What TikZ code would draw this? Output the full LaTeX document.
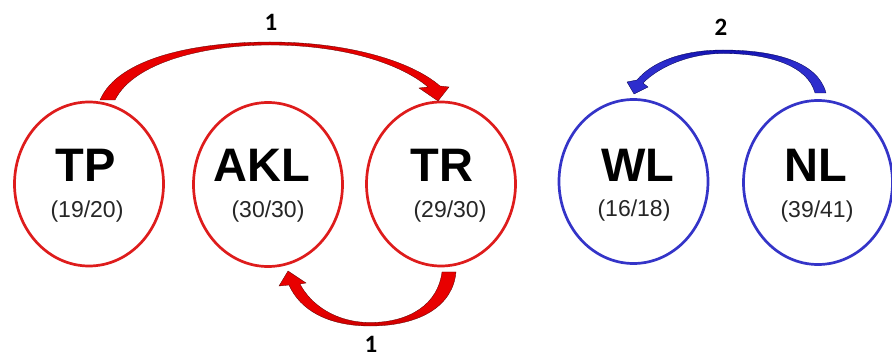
\documentclass[tikz,border=0pt]{standalone}
\usepackage{fontspec}
\setmainfont{Liberation Sans}
\newfontfamily\lblfont{Carlito}
\usetikzlibrary{shapes.geometric}
\definecolor{cred}{RGB}{222,28,28}
\definecolor{cblue}{RGB}{52,52,200}
\definecolor{ared}{RGB}{232,0,0}
\definecolor{ablue}{RGB}{45,45,205}
\definecolor{dred}{RGB}{70,10,10}
\definecolor{dblue}{RGB}{20,20,90}
\pgfdeclareverticalshading{redtopfade}{100bp}{color(0bp)=(ared); color(65bp)=(ared); color(88bp)=(red!70!black); color(100bp)=(dred)}
\pgfdeclareverticalshading{redbotfade}{100bp}{color(0bp)=(dred); color(12bp)=(red!70!black); color(40bp)=(ared); color(100bp)=(ared)}
\pgfdeclareverticalshading{bluetopfade}{100bp}{color(0bp)=(ablue); color(60bp)=(ablue); color(85bp)=(blue!60!black); color(100bp)=(dblue)}
\tikzset{
  oval/.style={ellipse, draw, line width=2.7pt, minimum width=149pt, minimum height=164pt, inner sep=0pt},
  redoval/.style={oval, draw=cred},
  blueoval/.style={oval, draw=cblue},
  bigtxt/.style={anchor=base, font=\fontsize{47}{50}\selectfont\bfseries, inner sep=0pt},
  subtxt/.style={anchor=base, font=\fontsize{23}{26}\selectfont, text=black!85, inner sep=0pt},
  numtxt/.style={font=\lblfont\fontsize{25}{27}\selectfont\bfseries, inner sep=0pt},
  redarrow/.style={shading=redtopfade, draw=red!35!black, line width=0.3pt},
  redarrowb/.style={shading=redbotfade, draw=red!35!black, line width=0.3pt},
  bluearrow/.style={shading=bluetopfade, draw=blue!30!black, line width=0.3pt},
}
\begin{document}
\begin{tikzpicture}[x=1pt,y=-1pt]
\useasboundingbox (0,0) rectangle (892,358);
\fill[white] (0,0) rectangle (892,358);

% ovals
\node[redoval] (tp) at (89,184) {};
\node[redoval] (akl) at (268,184.5) {};
\node[redoval] (tr) at (441,184) {};
\node[blueoval] (wl) at (633.5,181.5) {};
\node[blueoval] (nl) at (818,182.5) {};

% texts
\node[bigtxt] (tpT) at (86,182) {TP};
\node[subtxt] (tpS) at (87,218) {(19/20)};
\node[bigtxt] (aklT) at (262,182) {AKL};
\node[subtxt] (aklS) at (268,218) {(30/30)};
\node[bigtxt] (trT) at (442,182) {TR};
\node[subtxt] (trS) at (450,218) {(29/30)};
\node[bigtxt] (wlT) at (638,182) {WL};
\node[subtxt] (wlS) at (634,217) {(16/18)};
\node[bigtxt] (nlT) at (816,182) {NL};
\node[subtxt] (nlS) at (817,218) {(39/41)};

% top red arrow TP -> TR
\path[redarrow]
  (100,100) .. controls (118,58) and (195,42) .. (270,42)
  .. controls (345,42) and (410,60) .. (440,86)
  -- (449,87) -- (438,101) -- (419,88) -- (428,87)
  .. controls (400,63) and (342,45) .. (270,45)
  .. controls (205,45) and (134,62) .. (115,100) -- cycle;
\node[numtxt] (n1) at (271,22) {1};

% bottom red arrow TR -> AKL
\path[redarrowb]
  (442,272) -- (456,272)
  .. controls (453,306) and (420,326) .. (370,326)
  .. controls (328,326) and (300,310) .. (289,285)
  -- (279,286) -- (288,271) -- (306,283) -- (300,284)
  .. controls (311,305) and (336,322.5) .. (370,322.5)
  .. controls (410,322.5) and (438,304) .. (442,272) -- cycle;
\node[numtxt] (n2) at (371,344) {1};

% blue arrow NL -> WL
\path[bluearrow]
  (815,93) -- (826,93)
  .. controls (818,62) and (775,50) .. (723,50)
  .. controls (682,50) and (652,62) .. (637,80)
  -- (627,82) -- (634,94) -- (648,87) -- (643,83)
  .. controls (660,66) and (690,53.5) .. (723,53.5)
  .. controls (770,53.5) and (808,66) .. (815,93) -- cycle;
\node[numtxt] (n3) at (721,27) {2};
\end{tikzpicture}
\end{document}
